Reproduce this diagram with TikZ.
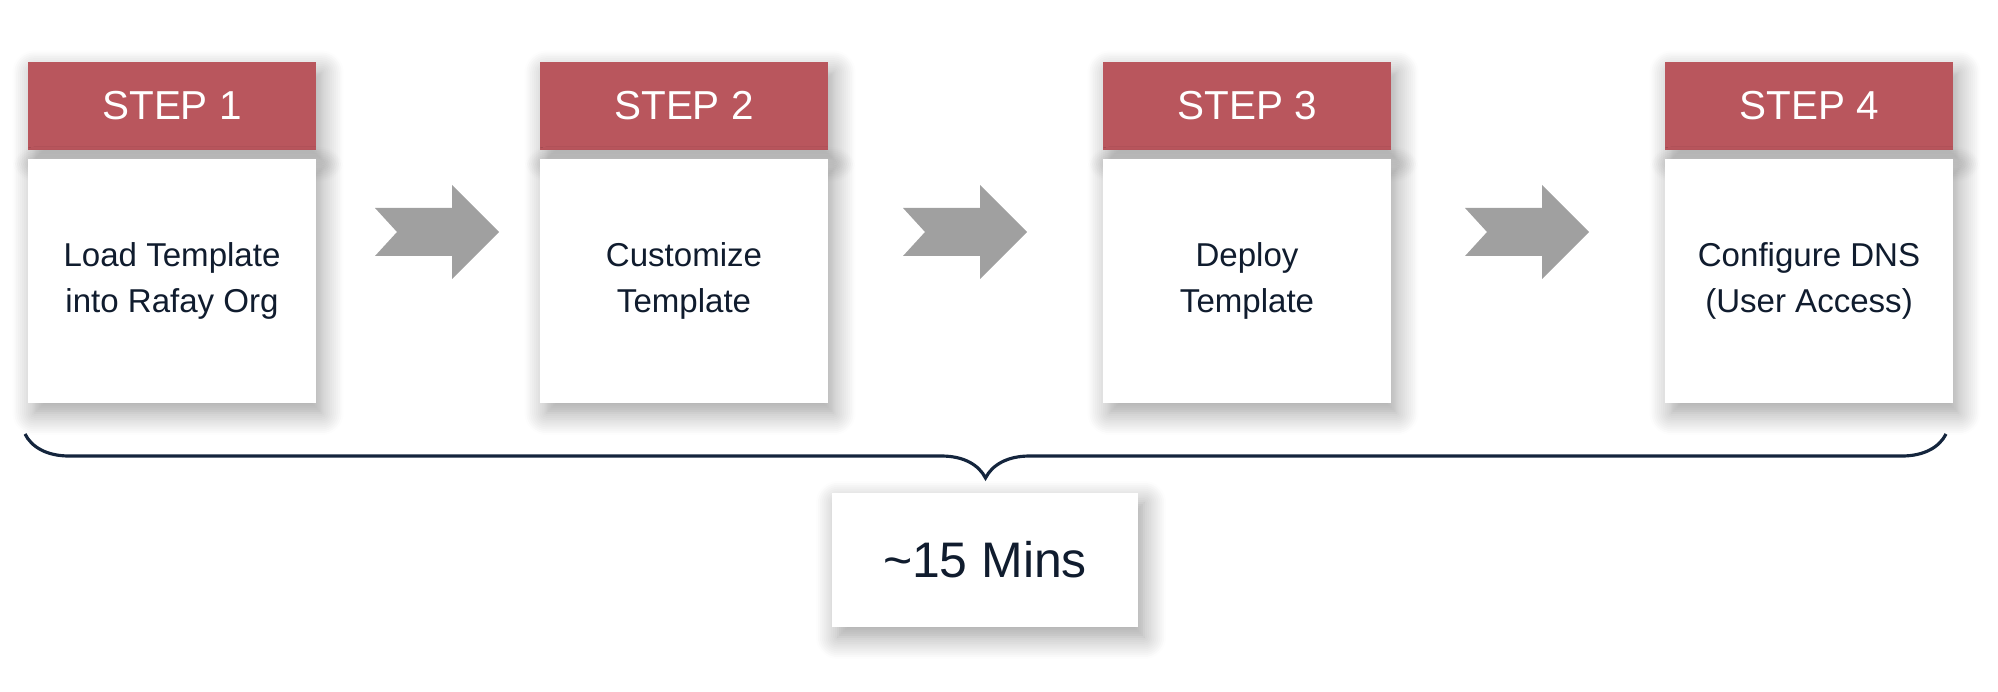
\documentclass[tikz,border=0pt]{standalone}
\usepackage{fontspec}
\setmainfont{Liberation Sans}
\usetikzlibrary{positioning,shadows.blur,decorations.pathreplacing}
\definecolor{hdr}{HTML}{B9565D}
\definecolor{ink}{HTML}{101C2E}
\definecolor{arw}{HTML}{A0A0A0}
\definecolor{brc}{HTML}{14253D}
\tikzset{
  soft/.style={blur shadow={shadow xshift=0.06cm,shadow yshift=-0.1cm,shadow blur radius=0.22cm,shadow blur steps=12,shadow opacity=38}},
  head/.style={fill=hdr,text=white,minimum width=2.87cm,minimum height=0.87cm,inner sep=0pt,font=\fontsize{11.5}{13}\selectfont,soft},
  body/.style={fill=white,text=ink,minimum width=2.87cm,minimum height=2.44cm,inner sep=0pt,align=center,font=\fontsize{9.4}{13.1}\selectfont,soft},
  note/.style={fill=white,text=ink,minimum width=3.06cm,minimum height=1.34cm,inner sep=0pt,font=\fontsize{14.2}{16}\selectfont,soft},
  chev/.style={fill=arw},
  span/.style={draw=brc,line width=0.9pt,decorate,decoration={brace,mirror,amplitude=0.44cm}},
}
\begin{document}
\begin{tikzpicture}[x=0.01cm,y=-0.01cm]
\useasboundingbox (0,0) rectangle (1998,692);
% step cards
\foreach \n/\cx/\txt in {1/172/{Load Template\\into Rafay Org},2/684/{Customize\\Template},3/1247/{Deploy\\Template},4/1809/{Configure DNS\\(User Access)}}{
  \node[head] (h\n) at (\cx,106) {STEP \n};
  \node[body,below=0.08cm of h\n] (b\n) {\txt};
}
% chevrons between cards
\foreach \tx/\a in {499/a1,1027/a2,1589/a3}{
  \coordinate (\a) at (\tx,232);
  \fill[chev] (\a) -- ++(-47,-47) -- ++(0,23) -- ++(-77,0) -- ++(22,24) -- ++(-22,24) -- ++(77,0) -- ++(0,23) -- cycle;
}
% total time
\coordinate (bl) at (25,434);
\coordinate (br) at (1946,434);
\draw[span] (bl) -- (br);
\node[note] (mins) at (985,560) {\textasciitilde15 Mins};
\end{tikzpicture}
\end{document}
